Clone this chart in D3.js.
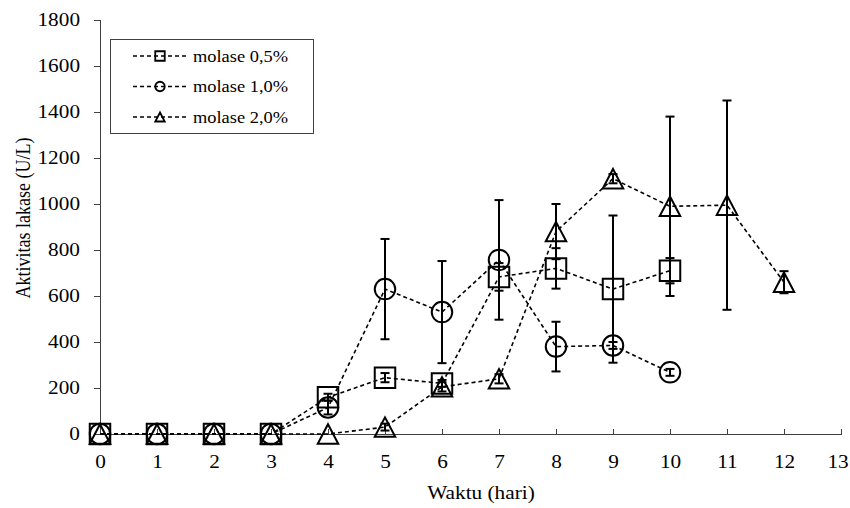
<!DOCTYPE html>
<html>
<head>
<meta charset="utf-8">
<script src="https://cdn.jsdelivr.net/npm/d3@7"></script>
<style>
  body { margin: 0; background: #fff; }
  svg { display: block; }
  svg text { font-family: "Liberation Serif", "Times New Roman", serif; fill: #000; }
  .axis path, .axis line { stroke: #404040; shape-rendering: crispEdges; }
</style>
</head>
<body>
<svg id="chart" width="850" height="508"></svg>
<script>
//

const xTicks = [0, 1, 2, 3, 4, 5, 6, 7, 8, 9, 10, 11, 12, 13]
const yTicks = [0, 200, 400, 600, 800, 1000, 1200, 1400, 1600, 1800]

const days05 = [0, 1, 2, 3, 4, 5, 6, 7, 8, 9, 10]
const molase05 = [0, 0, 0, 0, 160, 245, 220, 683, 720, 630, 710]
const molase05Err = [0, 0, 0, 0, 15, 20, 15, 60, 88, 320, 55]

const days10 = [0, 1, 2, 3, 4, 5, 6, 7, 8, 9, 10]
const molase10 = [0, 0, 0, 0, 115, 630, 530, 757, 380, 385, 268]
const molase10Err = [0, 0, 0, 0, 30, 218, 222, 260, 108, 15, 15]

const days20 = [0, 1, 2, 3, 4, 5, 6, 7, 8, 9, 10, 11, 12]
const molase20 = [0, 0, 0, 0, 0, 30, 205, 240, 880, 1110, 990, 995, 660]
const molase20Err = [0, 0, 0, 0, 0, 15, 20, 20, 120, 20, 390, 455, 48]

const seriesNames = ['molase 0,5%', 'molase 1,0%', 'molase 2,0%']

//

const stretch = 1.15 // text in the picture is a little wide

// triangle with its box centred on the point
const boxTriangle = {
  draw (ctx, size) {
    const w = Math.sqrt(size)
    const h = w * 0.95
    ctx.moveTo(0, -h / 2)
    ctx.lineTo(w / 2, h / 2)
    ctx.lineTo(-w / 2, h / 2)
    ctx.closePath()
  }
}
const boxSquare = {
  draw (ctx, size) {
    const w = Math.sqrt(size)
    ctx.rect(-w / 2, -w / 2, w, w)
  }
}
const boxCircle = {
  draw (ctx, size) {
    const r = Math.sqrt(size) / 2
    ctx.moveTo(r, 0)
    ctx.arc(0, 0, r, 0, 2 * Math.PI)
  }
}

const series = [
  { name: seriesNames[0], x: days05, y: molase05, err: molase05Err, type: boxSquare },
  { name: seriesNames[1], x: days10, y: molase10, err: molase10Err, type: boxCircle },
  { name: seriesNames[2], x: days20, y: molase20, err: molase20Err, type: boxTriangle }
]

//

const svg = d3.select('#chart')
const margin = {top: 20, right: 9, bottom: 74, left: 100}
const width = 850 - margin.left - margin.right
const height = 508 - margin.top - margin.bottom

const x = d3.scaleLinear().domain([0, 13]).range([margin.left, margin.left + width])
const y = d3.scaleLinear().domain([0, 1800]).range([margin.top + height, margin.top])

// axes

const yAxis = d3.axisLeft(y)
  .tickValues(yTicks)
  .tickFormat(d3.format('d'))
  .tickSizeInner(6)
  .tickSizeOuter(0)
  .tickPadding(14)

const xAxis = d3.axisBottom(x)
  .tickValues(xTicks)
  .tickFormat(d3.format('d'))
  .tickSizeInner(-5)
  .tickSizeOuter(0)
  .tickPadding(21)

const gy = svg.append('g')
  .attr('class', 'axis')
  .attr('transform', 'translate(' + margin.left + ',0)')
  .call(yAxis)
gy.select('.domain').attr('d', 'M0.5,' + y(1800) + 'V' + y(0))
gy.selectAll('.tick text')
  .attr('x', -20 / stretch)
  .attr('transform', 'scale(' + stretch + ',1)')

const gx = svg.append('g')
  .attr('class', 'axis')
  .attr('transform', 'translate(0,' + y(0) + ')')
  .call(xAxis)
gx.selectAll('.tick text')
  .attr('transform', 'scale(' + stretch + ',1)')
  .attr('x', d => d === 13 ? -3 : 0)

svg.selectAll('.axis').attr('font-family', null).attr('font-size', 18.5)

// axis titles

svg.append('text')
  .attr('transform', 'translate(30,218) rotate(-90) scale(1,' + stretch + ')')
  .attr('text-anchor', 'middle')
  .attr('font-size', 18)
  .text('Aktivitas lakase (U/L)')

svg.append('text')
  .attr('transform', 'translate(481,499) scale(' + stretch + ',1)')
  .attr('text-anchor', 'middle')
  .attr('font-size', 18.5)
  .text('Waktu (hari)')

// series

const line = d3.line()
  .x(d => x(d.x))
  .y(d => y(d.y))

series.forEach(s => {
  const pts = s.x.map((d, i) => ({x: d, y: s.y[i], e: s.err[i]}))
  const g = svg.append('g').attr('class', 'series')

  g.append('path')
    .datum(pts)
    .attr('d', line)
    .attr('fill', 'none')
    .attr('stroke', '#000')
    .attr('stroke-width', 1.6)
    .attr('stroke-dasharray', '4,3')

  const bars = g.selectAll('.err')
    .data(pts.filter(p => p.e > 0))
    .enter().append('g')
    .attr('class', 'err')
    .attr('stroke', '#000')
    .attr('stroke-width', 2)
  bars.append('line')
    .attr('x1', d => x(d.x)).attr('x2', d => x(d.x))
    .attr('y1', d => y(d.y + d.e)).attr('y2', d => y(d.y - d.e))
  bars.append('line')
    .attr('x1', d => x(d.x) - 4.5).attr('x2', d => x(d.x) + 4.5)
    .attr('y1', d => y(d.y + d.e)).attr('y2', d => y(d.y + d.e))
  bars.append('line')
    .attr('x1', d => x(d.x) - 4.5).attr('x2', d => x(d.x) + 4.5)
    .attr('y1', d => y(d.y - d.e)).attr('y2', d => y(d.y - d.e))

  g.selectAll('.mark')
    .data(pts)
    .enter().append('path')
    .attr('class', 'mark')
    .attr('transform', d => 'translate(' + x(d.x) + ',' + y(d.y) + ')')
    .attr('d', d3.symbol(s.type, 420))
    .attr('fill', 'none')
    .attr('stroke', '#000')
    .attr('stroke-width', 2)
})

// legend

const legend = svg.append('g').attr('class', 'legend')
legend.append('rect')
  .attr('x', 110.5).attr('y', 39.5)
  .attr('width', 203).attr('height', 94)
  .attr('fill', '#fff')
  .attr('stroke', '#404040')

const rows = legend.selectAll('.row')
  .data(series)
  .enter().append('g')
  .attr('class', 'row')
  .attr('transform', (d, i) => 'translate(0,' + (56 + i * 30.5) + ')')

rows.append('line')
  .attr('x1', 133).attr('x2', 187)
  .attr('stroke', '#000')
  .attr('stroke-width', 1.6)
  .attr('stroke-dasharray', '4,3')
rows.append('path')
  .attr('transform', 'translate(160,0)')
  .attr('d', d => d3.symbol(d.type, 90)())
  .attr('fill', 'none')
  .attr('stroke', '#000')
  .attr('stroke-width', 1.8)
rows.append('text')
  .attr('transform', 'translate(193,5.5) scale(' + stretch + ',1)')
  .attr('font-size', 16)
  .text(d => d.name)
</script>
</body>
</html>
